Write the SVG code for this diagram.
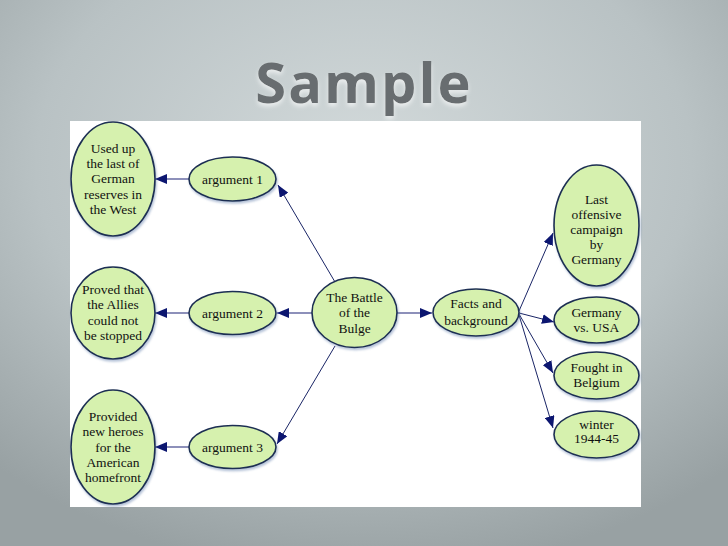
<svg xmlns="http://www.w3.org/2000/svg" width="728" height="546" viewBox="0 0 728 546">
<defs>
<radialGradient id="bg" cx="0.5" cy="0.3" r="0.75">
<stop offset="0" stop-color="#d3dadb"/>
<stop offset="0.6" stop-color="#b9c2c4"/>
<stop offset="1" stop-color="#98a1a3"/>
</radialGradient>
<filter id="ts" x="-10%" y="-20%" width="120%" height="150%">
<feGaussianBlur in="SourceAlpha" stdDeviation="2"/>
<feOffset dx="0" dy="3" result="b"/>
<feFlood flood-color="#ffffff" flood-opacity="0.6"/>
<feComposite in2="b" operator="in"/>
<feMerge><feMergeNode/><feMergeNode in="SourceGraphic"/></feMerge>
</filter>
<filter id="ns" x="-20%" y="-20%" width="140%" height="140%">
<feGaussianBlur in="SourceAlpha" stdDeviation="1.2"/>
<feOffset dx="1" dy="1.5" result="b"/>
<feFlood flood-color="#5a78a8" flood-opacity="0.45"/>
<feComposite in2="b" operator="in"/>
<feMerge><feMergeNode/><feMergeNode in="SourceGraphic"/></feMerge>
</filter>
<marker id="ah" viewBox="0 0 12 10" refX="12" refY="5" markerWidth="12" markerHeight="10" markerUnits="userSpaceOnUse" orient="auto">
<path d="M0,0 L12,5 L0,10 Z" fill="#0c1670"/>
</marker>
</defs>
<style>
.node ellipse{fill:#d6f1ae;stroke:#1d2f52;stroke-width:1.6;filter:url(#ns)}
.node text{font-family:"Liberation Serif","Times New Roman",serif;font-size:13.5px;fill:#111111;text-anchor:middle}
.h{stroke:#8d90ba;stroke-width:2;fill:none}
.d{stroke:#1a2566;stroke-width:1;fill:none}
</style>
<rect width="728" height="546" fill="url(#bg)"/>
<text x="364" y="103" text-anchor="middle" font-family="'Open Sans',Lato,sans-serif" font-weight="700" font-size="56" letter-spacing="2" fill="#686d6f" filter="url(#ts)">Sample</text>
<rect x="70" y="121" width="571" height="386" fill="#ffffff"/>

<g id="connectors">
<line class="h" x1="189" y1="179" x2="155" y2="179" marker-end="url(#ah)"/>
<line class="h" x1="189" y1="313" x2="155" y2="313" marker-end="url(#ah)"/>
<line class="h" x1="189" y1="447" x2="155" y2="447" marker-end="url(#ah)"/>
<line class="d" x1="335" y1="282" x2="278" y2="185" marker-end="url(#ah)"/>
<line class="h" x1="312" y1="313" x2="277" y2="313" marker-end="url(#ah)"/>
<line class="d" x1="335" y1="346" x2="277" y2="444" marker-end="url(#ah)"/>
<line class="h" x1="397" y1="313" x2="432" y2="313" marker-end="url(#ah)"/>
<line class="d" x1="519" y1="311" x2="553" y2="233" marker-end="url(#ah)"/>
<line class="d" x1="519" y1="313" x2="554" y2="322" marker-end="url(#ah)"/>
<line class="d" x1="519" y1="314" x2="553" y2="373" marker-end="url(#ah)"/>
<line class="d" x1="519" y1="315" x2="553" y2="428" marker-end="url(#ah)"/>
</g>

<g id="n-usedup" class="node"><ellipse cx="113" cy="179" rx="42" ry="57"/>
<text x="113" y="153">Used up</text><text x="113" y="168">the last of</text><text x="113" y="183">German</text><text x="113" y="199">reserves in</text><text x="113" y="214">the West</text></g>
<g id="n-arg1" class="node"><ellipse cx="232.5" cy="179" rx="43.5" ry="22"/><text x="232.5" y="183.5">argument 1</text></g>
<g id="n-proved" class="node"><ellipse cx="113" cy="313" rx="42" ry="46"/>
<text x="113" y="294">Proved that</text><text x="113" y="309">the Allies</text><text x="113" y="325">could not</text><text x="113" y="340">be stopped</text></g>
<g id="n-arg2" class="node"><ellipse cx="232.5" cy="313" rx="43.5" ry="21.5"/><text x="232.5" y="317.5">argument 2</text></g>
<g id="n-provided" class="node"><ellipse cx="113" cy="447" rx="42" ry="57"/>
<text x="113" y="421">Provided</text><text x="113" y="436">new heroes</text><text x="113" y="452">for the</text><text x="113" y="467">American</text><text x="113" y="482">homefront</text></g>
<g id="n-arg3" class="node"><ellipse cx="232.5" cy="447" rx="43.5" ry="21.5"/><text x="232.5" y="451.5">argument 3</text></g>
<g id="n-battle" class="node"><ellipse cx="354.5" cy="312.5" rx="42.5" ry="35"/>
<text x="354.5" y="302">The Battle</text><text x="354.5" y="317">of the</text><text x="354.5" y="333">Bulge</text></g>
<g id="n-facts" class="node"><ellipse cx="476" cy="312.5" rx="43" ry="23.5"/>
<text x="476" y="308">Facts and</text><text x="476" y="325">background</text></g>
<g id="n-last" class="node"><ellipse cx="596.5" cy="225.5" rx="42.5" ry="60.5"/>
<text x="596.5" y="204">Last</text><text x="596.5" y="219">offensive</text><text x="596.5" y="234">campaign</text><text x="596.5" y="249">by</text><text x="596.5" y="264">Germany</text></g>
<g id="n-gusa" class="node"><ellipse cx="596.5" cy="320" rx="42.5" ry="23"/>
<text x="596.5" y="317">Germany</text><text x="596.5" y="332">vs. USA</text></g>
<g id="n-belgium" class="node"><ellipse cx="596.5" cy="375.5" rx="42.5" ry="23.5"/>
<text x="596.5" y="372">Fought in</text><text x="596.5" y="387">Belgium</text></g>
<g id="n-winter" class="node"><ellipse cx="596.5" cy="434.5" rx="42.5" ry="23.5"/>
<text x="596.5" y="429">winter</text><text x="596.5" y="443">1944-45</text></g>
</svg>
